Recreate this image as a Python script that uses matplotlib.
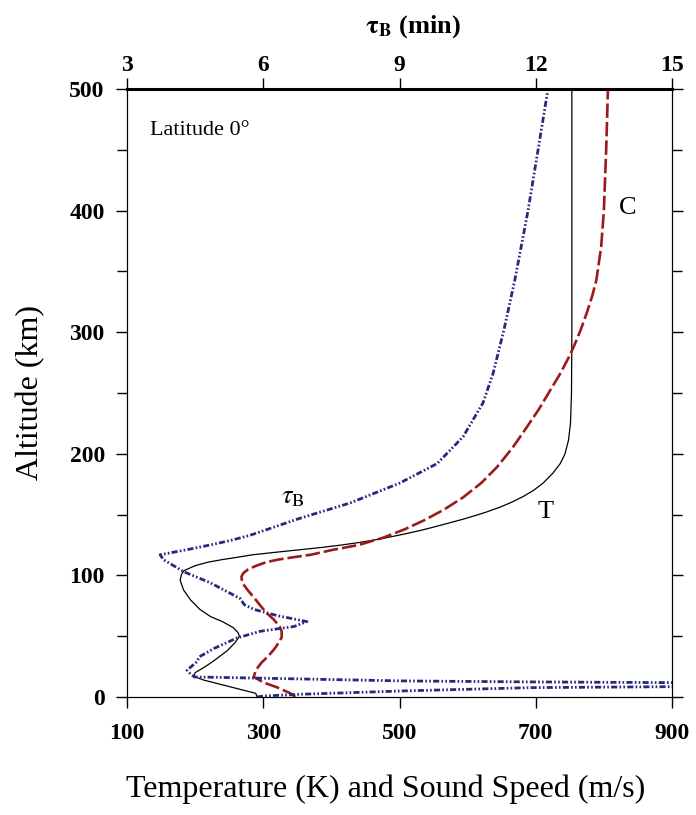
import matplotlib.pyplot as plt
import numpy as np

plt.rcParams['font.family'] = ['Liberation Serif', 'DejaVu Serif']
plt.rcParams['mathtext.fontset'] = 'stix'

# temperature profile T (K) vs altitude (km)
t_alt = [0, 3, 7, 10, 14, 17, 20, 25, 30, 38, 45, 50, 53, 57, 62, 66, 72, 80, 88, 96,
         101, 104, 108, 111, 113, 115, 117, 119, 121, 123, 125, 127, 129, 131, 134, 137,
         140, 143, 146, 149, 152, 156, 160, 165, 170, 176, 184, 192, 200, 211, 225, 250,
         300, 400, 500]
t_val = [291, 289, 261, 240, 212, 198, 200, 215, 228, 247, 259, 265, 263, 256, 240, 223,
         207, 193, 183, 178, 180, 184, 200, 220, 240, 263, 285, 318, 352, 386, 415, 440,
         462, 481, 507, 531, 552, 572, 592, 610, 627, 647, 664, 682, 697, 711, 725, 736,
         743, 748, 751, 752.5, 753, 753, 753]

# sound speed C (m/s)
c_alt = [0, 3, 8, 12, 16.5, 22, 28, 34, 40, 45, 49, 54, 58, 64, 69, 75, 82, 88, 94, 99,
         102, 105, 108, 111, 113, 115, 117, 121, 125, 131, 138, 145, 154, 164, 176, 189,
         205, 222, 237, 252, 266, 281, 291, 302, 316, 330, 343, 370, 400, 452, 500]
c_val = [347, 340, 320, 300, 286, 289, 297, 308, 317, 323, 327, 327, 324, 315, 305, 296,
         286, 277, 269, 268, 271, 278, 290, 305, 322, 345, 370, 402, 440, 476, 508, 535,
         565, 593, 620, 643, 666, 687, 705, 721, 736, 750, 758, 766, 775, 783, 789, 796,
         800, 803.5, 806]

# Brunt period tau_B (min)
tau_alt = [0, 0.8, 2.2, 5.0, 7.7, 8.5, 10, 11.8, 12.4, 13.2, 16.5, 20, 22, 29, 33, 40,
           48.5, 54, 58, 62, 67, 72, 76, 81, 94, 103, 113, 117, 121, 125, 129, 133, 147,
           159.5, 176, 192, 214, 242, 266, 302, 343, 400, 452, 500]
tau_val = [5.86, 6.0, 6.8, 9.1, 11.9, 15.05, 20, 15.05, 11.9, 9.1, 4.48, 4.37, 4.32,
           4.54, 4.59, 4.92, 5.42, 5.93, 6.68, 6.96, 6.30, 5.80, 5.58, 5.49, 4.83, 4.25,
           3.8, 3.73, 4.30, 4.83, 5.31, 5.71, 6.81, 7.91, 9.01, 9.83, 10.40, 10.84,
           11.06, 11.30, 11.54, 11.83, 12.06, 12.27]

fig = plt.figure(figsize=(6.96, 8.15), dpi=100)
ax = fig.add_axes([0.1825, 0.1448, 0.783, 0.746])

ax.plot(t_val, t_alt, color='black', lw=0.9)
ax.plot(c_val, c_alt, color='#9b1b1b', lw=1.9, dashes=(5.5, 1.5))
ax.set_xlim(100, 900)
ax.set_ylim(0, 500)
ax.set_xticks([100, 300, 500, 700, 900])
ax.set_yticks([0, 100, 200, 300, 400, 500])
ax.set_yticks(np.arange(50, 500, 100), minor=True)
ax.tick_params(axis='both', which='major', direction='out', length=8, width=1,
               labelsize=17)
ax.tick_params(axis='x', pad=11)
ax.tick_params(axis='y', which='major', pad=8)
ax.tick_params(axis='y', which='both', right=True)
ax.tick_params(axis='y', which='minor', direction='out', length=7, width=1)
for lab in ax.get_xticklabels() + ax.get_yticklabels():
    lab.set_fontweight('bold')
ax.set_xlabel('Temperature (K) and Sound Speed (m/s)', fontsize=23)
ax.xaxis.set_label_coords(0.474, -0.128)
ax.set_ylabel('Altitude (km)', fontsize=23)
ax.yaxis.set_label_coords(-0.15, 0.5)

ax2 = ax.twiny()
ax2.plot(tau_val, tau_alt, color='#28287c', lw=2.0,
         dashes=(2.2, 0.8, 0.6, 0.8, 0.6, 0.8))
ax2.set_xlim(3, 15)
ax2.set_xticks([3, 6, 9, 12, 15])
ax2.tick_params(axis='x', direction='out', length=8, width=1, labelsize=17, pad=1.5)
for lab in ax2.get_xticklabels():
    lab.set_fontweight('bold')
ax2.set_xlabel(r'$\mathbf{\tau_B}$ (min)', fontsize=19, fontweight='bold')
ax2.xaxis.set_label_coords(0.525, 1.092)
ax2.spines['top'].set_linewidth(2.2)

ax.text(134, 466, 'Latitude 0°', fontsize=16, va='center', ha='left')
ax.text(344, 164, r'$\tau_{\mathrm{B}}$', fontsize=19, ha='center', va='center')
ax.text(714, 152, 'T', fontsize=19, ha='center', va='center')
ax.text(835, 402, 'C', fontsize=19, ha='center', va='center')

fig.savefig('out.png', dpi=100)
